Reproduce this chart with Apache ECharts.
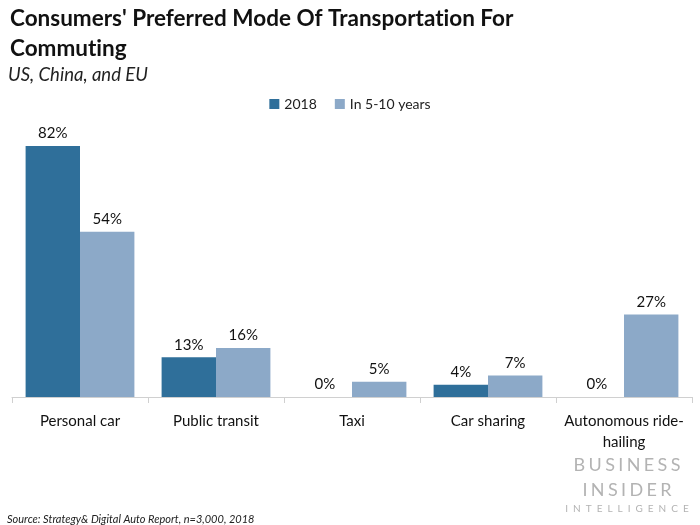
<!DOCTYPE html>
<html>
<head>
<meta charset="utf-8">
<script src="https://cdn.jsdelivr.net/npm/echarts@6/dist/echarts.min.js"></script>
<style>html,body{margin:0;padding:0;background:#fff;}#c{width:700px;height:525px;}</style>
</head>
<body>
<div id="c"></div>
<script>
const categories = ['Personal car', 'Public transit', 'Taxi', 'Car sharing', 'Autonomous ride-\nhailing'];
const series2018 = [82, 13, 0, 4, 0];
const seriesFuture = [54, 16, 5, 7, 27];
const seriesNames = ['2018', 'In 5-10 years'];

const chart = echarts.init(document.getElementById('c'));
const FONT = 'Lato';
const spaced = (s, sep) => s.split('').join(sep);
const noLig = s => s.replace(/ti/g, 't\u200Ci');
const labelCfg = {show: true, position: 'top', distance: 5, formatter: '{c}%', fontFamily: FONT, fontSize: 15, color: '#111'};
chart.setOption({
  animation: false,
  title: [
    {text: noLig("Consumers' Preferred Mode Of Transportation For\nCommuting"), left: 5, top: -1,
     textStyle: {fontFamily: FONT, fontWeight: 'bold', fontSize: 22.5, lineHeight: 30, color: '#111'}},
    {text: 'US, China, and EU', left: 3, top: 61,
     textStyle: {fontFamily: FONT, fontStyle: 'italic', fontWeight: 'normal', fontSize: 18.5, color: '#222'}},
    {text: 'Source: Strategy& Digital Auto Report, n=3,000, 2018', left: 2, top: 509,
     textStyle: {fontFamily: FONT, fontStyle: 'italic', fontWeight: 'normal', fontSize: 11, color: '#222'}}
  ],
  legend: {
    data: seriesNames, top: 92, left: 'center', itemWidth: 10, itemHeight: 10, itemGap: 18,
    icon: 'rect', textStyle: {fontFamily: FONT, fontSize: 14, color: '#222'}
  },
  grid: {left: 12, right: 8, top: 91, bottom: 128, containLabel: false},
  xAxis: {
    type: 'category', data: categories,
    axisLine: {lineStyle: {color: '#d0d0d0', width: 1}},
    axisTick: {show: true, length: 6, lineStyle: {color: '#d0d0d0'}},
    axisLabel: {fontFamily: FONT, fontSize: 15, color: '#111', margin: 14, lineHeight: 21, interval: 0}
  },
  yAxis: {type: 'value', min: 0, max: 100, show: false, splitLine: {show: false}},
  series: [
    {name: seriesNames[0], type: 'bar', data: series2018, barGap: '0%', barCategoryGap: '20%',
     itemStyle: {color: '#2F6F9A'}, label: labelCfg},
    {name: seriesNames[1], type: 'bar', data: seriesFuture,
     itemStyle: {color: '#8CA9C8'}, label: labelCfg}
  ],
  graphic: [
    {type: 'text', x: 627, y: 465, style: {text: spaced('BUSINESS', '\u2009\u200A'), font: '18px Lato', fill: '#b3b3b3', align: 'center', verticalAlign: 'middle'}},
    {type: 'text', x: 627, y: 490, style: {text: spaced('INSIDER', '\u2009\u200A'), font: '18px Lato', fill: '#b3b3b3', align: 'center', verticalAlign: 'middle'}},
    {type: 'text', x: 627, y: 509, style: {text: spaced('INTELLIGENCE', '\u2002'), font: '10px Lato', fill: '#b3b3b3', align: 'center', verticalAlign: 'middle'}}
  ]
});
</script>
</body>
</html>
